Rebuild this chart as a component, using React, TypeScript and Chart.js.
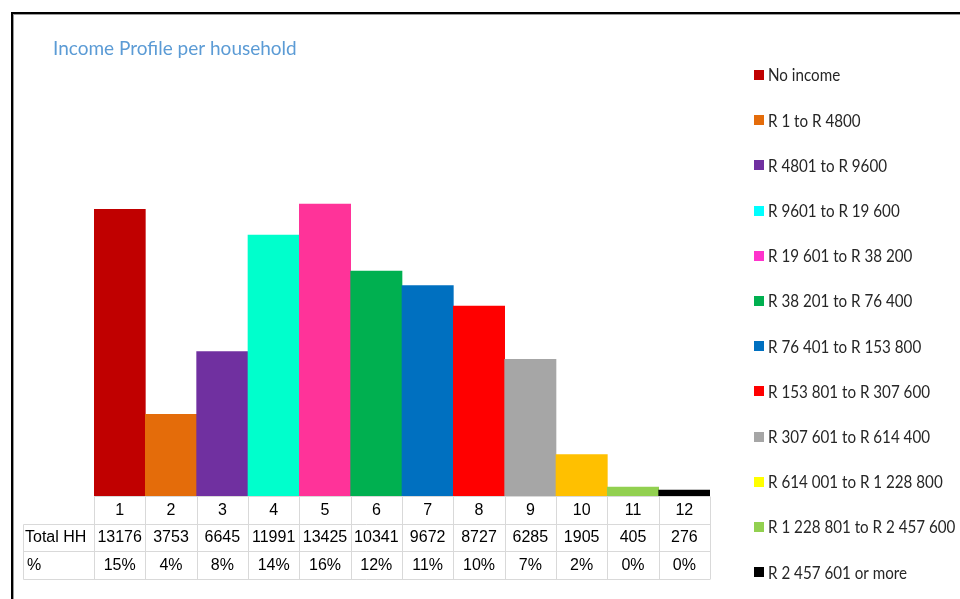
import React, { useEffect, useRef } from "react";
import { Chart, registerables } from "chart.js";

Chart.register(...registerables);

const categories = ["1", "2", "3", "4", "5", "6", "7", "8", "9", "10", "11", "12"];
const totalHH = [13176, 3753, 6645, 11991, 13425, 10341, 9672, 8727, 6285, 1905, 405, 276];
const percentLabels = ["15%", "4%", "8%", "14%", "16%", "12%", "11%", "10%", "7%", "2%", "0%", "0%"];
const incomeBands = [
  "No income",
  "R 1 to R 4800",
  "R 4801 to R 9600",
  "R 9601 to R 19 600",
  "R 19 601 to R 38 200",
  "R 38 201 to R 76 400",
  "R 76 401 to R 153 800",
  "R 153 801 to R 307 600",
  "R 307 601 to R 614 400",
  "R 614 001 to R 1 228 800",
  "R 1 228 801 to R 2 457 600",
  "R 2 457 601 or more",
];
const barColors = ["#c00000", "#e46c0a", "#7030a0", "#00ffcc", "#ff3399", "#00b050", "#0070c0", "#ff0000", "#a6a6a6", "#ffc000", "#92d050", "#000000"];
const legendColors = ["#c00000", "#e46c0a", "#7030a0", "#00ffff", "#ff33cc", "#00b050", "#0070c0", "#ff0000", "#a6a6a6", "#ffff00", "#92d050", "#000000"];
const rowHeaders = ["Total HH", "%"];

const TABLE_FONT = "16px 'Liberation Sans', Arial, sans-serif";
const LEGEND_FONT = "16.5px Lato, sans-serif";
const LEGEND_SQUEEZE = 0.92;

const framePlugin = {
  id: "frame",
  afterDraw(chart: any) {
    const { ctx, width, height } = chart;
    ctx.save();
    ctx.fillStyle = "#000";
    ctx.fillRect(11, 12, width - 11, 2);
    ctx.fillRect(11, 12, 2, height - 12);
    ctx.fillStyle = "#9a9a9a";
    ctx.fillRect(13, 14, width - 13, 1);
    ctx.fillRect(13, 14, 1, height - 14);
    ctx.restore();
  },
};

const tablePlugin = {
  id: "dataTable",
  afterDraw(chart: any) {
    const { ctx, chartArea } = chart;
    const xs = chart.scales.x;
    const n = categories.length;
    const colW = (chartArea.right - chartArea.left) / n;
    const top = Math.round(chartArea.bottom);
    const rowH = 27.5;
    const tableLeft = 23;
    const right = chartArea.right;
    const rows = [top, top + rowH, top + 2 * rowH, top + 3 * rowH].map((v) => Math.round(v) + 0.5);
    ctx.save();
    ctx.strokeStyle = "#d9d9d9";
    ctx.lineWidth = 1;
    ctx.beginPath();
    ctx.moveTo(chartArea.left, rows[0]);
    ctx.lineTo(right, rows[0]);
    for (let r = 1; r < 4; r++) {
      ctx.moveTo(tableLeft + 0.5, rows[r]);
      ctx.lineTo(right, rows[r]);
    }
    for (let i = 0; i <= n; i++) {
      const xe = Math.round(xs.getPixelForValue(Math.min(i, n - 1)) + (i === n ? colW / 2 : -colW / 2)) + 0.5;
      ctx.moveTo(xe, rows[0]);
      ctx.lineTo(xe, rows[3]);
    }
    ctx.moveTo(tableLeft + 0.5, rows[1]);
    ctx.lineTo(tableLeft + 0.5, rows[3]);
    ctx.stroke();

    ctx.fillStyle = "#000";
    ctx.font = TABLE_FONT;
    ctx.textBaseline = "middle";
    ctx.textAlign = "center";
    for (let i = 0; i < n; i++) {
      const cx = xs.getPixelForValue(i);
      ctx.fillText(categories[i], cx, (rows[0] + rows[1]) / 2);
      ctx.fillText(String(totalHH[i]), cx, (rows[1] + rows[2]) / 2);
      ctx.fillText(percentLabels[i], cx, (rows[2] + rows[3]) / 2);
    }
    ctx.textAlign = "left";
    ctx.fillText(rowHeaders[0], tableLeft + 2, (rows[1] + rows[2]) / 2);
    ctx.fillText(rowHeaders[1], tableLeft + 4, (rows[2] + rows[3]) / 2);
    ctx.restore();
  },
};

const legendPlugin = {
  id: "sideLegend",
  afterDraw(chart: any) {
    const { ctx, chartArea } = chart;
    const boxX = chartArea.right + 44;
    const firstY = 75;
    const step = 45.2;
    ctx.save();
    ctx.font = LEGEND_FONT;
    ctx.textBaseline = "middle";
    ctx.textAlign = "left";
    incomeBands.forEach((label, i) => {
      const cy = firstY + i * step;
      ctx.fillStyle = legendColors[i];
      ctx.fillRect(boxX, Math.round(cy - 5), 10, 10);
      ctx.fillStyle = "#262626";
      ctx.save();
      ctx.translate(boxX + 14, cy + 1);
      ctx.scale(LEGEND_SQUEEZE, 1);
      ctx.fillText(label, 0, 0);
      ctx.restore();
    });
    ctx.restore();
  },
};

export default function App() {
  const canvasRef = useRef<HTMLCanvasElement | null>(null);

  useEffect(() => {
    if (!canvasRef.current) return;
    const chart = new Chart(canvasRef.current, {
      type: "bar",
      data: {
        labels: categories,
        datasets: [
          {
            label: "Total HH",
            data: totalHH,
            backgroundColor: barColors,
            borderWidth: 0,
            barPercentage: 1,
            categoryPercentage: 1,
          },
        ],
      },
      options: {
        responsive: false,
        animation: false,
        layout: { padding: { left: 53, right: 250, top: 0, bottom: 21 } },
        plugins: {
          legend: { display: false },
          tooltip: { enabled: false },
          title: {
            display: true,
            text: "Income Profile per household",
            align: "start",
            color: "#5b9bd5",
            font: { family: "Lato, 'Open Sans', sans-serif", size: 19, weight: "normal" },
            padding: { top: 37, bottom: 88.2 },
          },
        },
        scales: {
          x: {
            display: true,
            grid: { display: false },
            border: { display: false },
            ticks: { display: false },
            afterFit: (scale: any) => {
              scale.height = 82;
            },
          },
          y: {
            display: true,
            min: 0,
            max: 16000,
            grid: { display: false },
            border: { display: false },
            ticks: { display: false },
            afterFit: (scale: any) => {
              scale.width = 41;
            },
          },
        },
      },
      plugins: [tablePlugin, legendPlugin, framePlugin],
    });
    return () => chart.destroy();
  }, []);

  return (
    <div style={{ position: "absolute", left: 0, top: 0, width: 960, height: 599, background: "#fff", overflow: "hidden" }}>
      <canvas ref={canvasRef} width={960} height={599} />
    </div>
  );
}
